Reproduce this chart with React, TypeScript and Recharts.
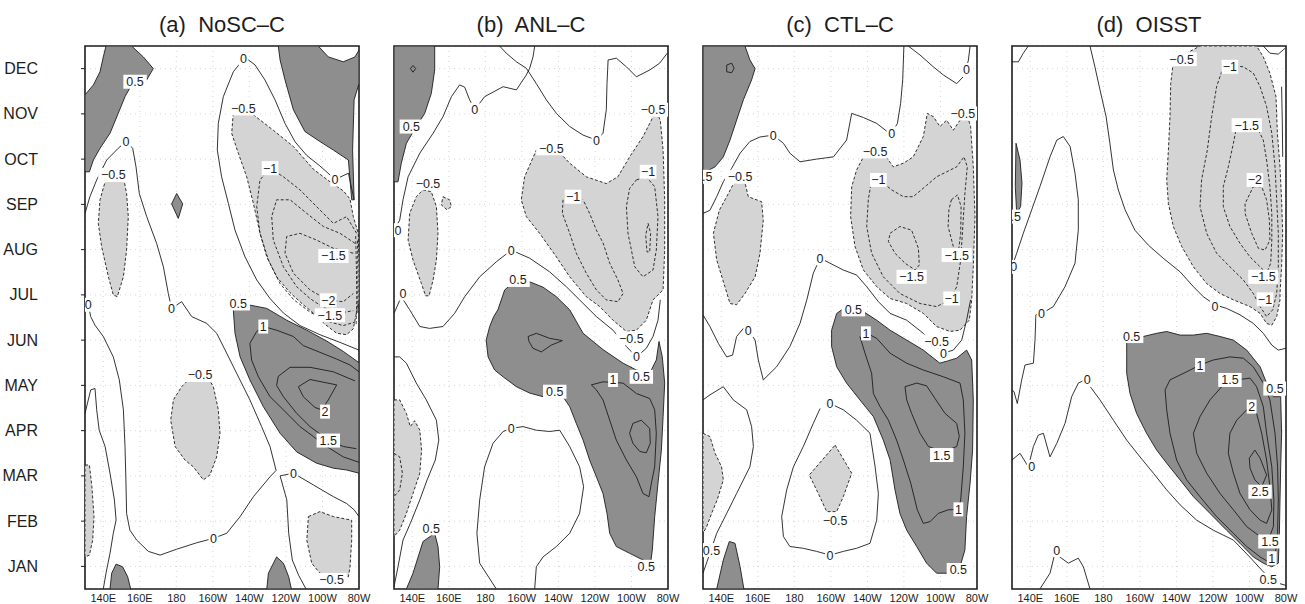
import React from 'react';
import { ScatterChart, Scatter, XAxis, YAxis, CartesianGrid, ReferenceArea } from 'recharts';

type Pt = [number, number];
type Lbl = [number, number, string];

// axes
const MONTHS = ['JAN', 'FEB', 'MAR', 'APR', 'MAY', 'JUN', 'JUL', 'AUG', 'SEP', 'OCT', 'NOV', 'DEC'];
const MONTH_TICKS = [1, 2, 3, 4, 5, 6, 7, 8, 9, 10, 11, 12];
const LON_TICKS = [140, 160, 180, 200, 220, 240, 260, 280];
const LON_LABELS = ['140E', '160E', '180', '160W', '140W', '120W', '100W', '80W'];
const TITLES = ['(a)  NoSC–C', '(b)  ANL–C', '(c)  CTL–C', '(d)  OISST'];

// ---------- panel (a) NoSC-C : contours as [lon (deg E), month] ----------
const A_darkTL: Pt[] = [[141.5,12.5],[155.5,12.5],[161.9,12.26],[167.4,12.0],[163.8,11.75],[155.5,11.64],[151.9,11.38],[148.2,11.01],[143.7,10.57],[138.2,10.24],[134.6,9.98],[132.4,9.72],[130,9.72],[130,11.42],[134.6,11.64],[138.2,11.93],[140.0,12.26]];
const A_darkTR: Pt[] = [[235.8,12.5],[257.7,12.5],[263.2,12.26],[271.4,12.15],[277.8,12.26],[280,12.41],[280,11.67],[277.3,11.31],[276.5,10.2],[277.3,9.1],[276.0,9.1],[274.2,9.98],[266.0,10.2],[258.6,10.39],[250.4,10.61],[244.1,11.09],[239.5,11.75],[236.8,12.19]];
const A_diamond: Pt[] = [[180.2,9.24],[183.5,9.01],[181.1,8.69],[177.4,9.01]];
const A_lightW: Pt[] = [[143.7,9.65],[151.0,9.61],[152.8,9.24],[153.7,8.73],[152.8,7.99],[151.0,7.40],[147.7,6.96],[145.5,7.0],[142.8,7.40],[139.1,8.07],[137.3,8.58],[138.2,9.10],[141.0,9.50]];
const A_neg: Pt[] = [[211.2,11.03],[222.2,10.98],[233.1,10.64],[244.1,10.28],[255.0,9.78],[264.1,9.50],[271.4,9.30],[275.1,9.12],[276.9,8.73],[279.6,8.36],[280,7.62],[280,6.89],[276.9,6.25],[273.2,6.12],[267.8,6.15],[261.4,6.35],[255.0,6.6],[249.5,6.78],[242.2,7.05],[234.9,7.40],[229.5,7.84],[225.8,8.36],[222.2,9.02],[218.5,9.61],[213.9,10.13],[210.3,10.57]];
const A_negMid: Pt[] = [[186.6,5.12],[197.5,5.16],[200.3,4.97],[203.0,4.46],[203.9,3.94],[202.1,3.42],[198.4,3.02],[194.8,2.91],[189.3,3.20],[184.7,3.35],[179.3,3.65],[176.9,4.23],[178.4,4.68],[182.9,4.97]];
const A_pos: Pt[] = [[211.2,6.67],[219.4,6.78],[229.5,6.70],[240.4,6.44],[251.4,6.22],[262.3,5.98],[271.4,5.75],[280,5.5],[280,3.06],[273.2,3.13],[266.0,3.17],[256.8,3.28],[245.9,3.53],[236.8,3.94],[227.6,4.53],[220.3,5.12],[214.9,5.63],[212.1,6.15]];
const A_negBR: Pt[] = [[252.3,2.10],[258.6,2.21],[266.0,2.10],[276.0,2.02],[276.0,1.58],[275.1,0.99],[274.2,0.77],[266.0,0.77],[258.6,0.85],[254.1,1.07],[251.4,1.58]];
const A_lightEdge: Pt[] = [[130,3.24],[132.4,3.24],[133.8,2.76],[134.9,2.10],[134.2,1.58],[132.4,1.25],[130,1.21]];
const A_darkBL: Pt[] = [[143.7,0.5],[144.6,0.85],[147.0,1.05],[150.6,0.99],[153.4,0.77],[155.0,0.5]];
const A_darkB: Pt[] = [[229.5,0.5],[230.4,0.85],[234.9,1.21],[238.6,1.07],[241.5,0.77],[243.0,0.5]];
const A_zero1: Pt[] = [[130,8.80],[132.7,9.17],[136.4,9.54],[141.9,9.98],[148.2,10.24],[152.4,10.39],[156.1,10.24],[157.9,9.83],[159.7,9.24],[163.8,8.73],[169.2,8.14],[172.9,7.62],[175.6,7.03],[177.4,6.70],[182.9,6.85],[188.4,6.52],[196.6,6.37],[202.1,6.15],[207.6,5.71],[213.0,5.27],[220.3,4.68],[226.7,4.09],[231.3,3.65],[234.6,3.12],[231.3,2.98],[222.2,2.54],[214.9,2.10],[207.6,1.73],[200.3,1.62],[191.1,1.52],[180.2,1.38],[171.1,1.25],[164.7,1.33],[158.3,1.58],[154.6,1.80],[152.8,2.17],[152.4,2.91],[151.9,3.65],[151.0,4.46],[148.8,5.12],[145.5,5.63],[140.0,6.08],[135.5,6.33],[133.1,6.52],[131.8,6.78],[130,6.89]];
const A_zeroTR: Pt[] = [[277.3,9.1],[274.2,9.69],[266.9,9.55],[258.6,9.85],[251.4,10.08],[245.0,10.38],[239.5,10.79],[234.0,11.31],[228.5,11.75],[223.1,12.08],[217.6,12.25],[211.2,11.93],[205.7,11.38],[203.0,10.79],[202.4,10.2],[204.8,9.61],[208.5,9.02],[212.1,8.43],[217.6,7.84],[224.0,7.33],[231.3,6.92],[238.6,6.6],[247.7,6.32],[258.6,6.12],[269.6,5.95],[280,5.78]];
const A_zero3: Pt[] = [[130,4.38],[133.1,4.90],[135.5,4.93],[136.4,4.46],[137.8,4.01],[141.0,3.65],[143.7,3.06],[146.1,2.47],[147.0,2.02],[145.5,1.73],[143.7,1.29],[141.5,0.85],[140.0,0.5]];
const A_zero4: Pt[] = [[280,2.10],[277.3,2.25],[273.2,2.39],[266.0,2.54],[255.0,2.80],[244.1,3.06],[236.8,3.00],[240.5,2.47],[241.5,1.73],[243.5,1.14],[247.0,0.8],[251.0,0.5]];
const A_m1: Pt[] = [[278.7,8.36],[273.2,8.73],[266.0,8.58],[256.8,8.95],[247.7,9.32],[238.6,9.61],[231.3,9.80],[225.8,9.54],[224.0,8.95],[225.8,8.36],[230.4,7.77],[236.8,7.25],[244.1,6.9],[253.2,6.62],[262.3,6.42],[271.4,6.32],[277.8,6.4]];
const A_m15: Pt[] = [[277.8,8.14],[269.6,8.36],[260.5,8.51],[251.4,8.80],[242.2,9.10],[234.9,9.10],[232.2,8.73],[233.1,8.21],[238.6,7.62],[245.9,7.18],[253.2,6.92],[260.5,6.72],[269.6,6.6],[276.9,6.65]];
const A_m2: Pt[] = [[276.9,7.92],[266.0,8.03],[256.8,8.21],[247.7,8.36],[240.4,8.29],[239.5,7.92],[244.1,7.48],[253.2,7.11],[263.2,6.88],[271.4,6.85],[276.9,7.03]];
const A_edge1: Pt[] = [[278.2,8.3],[278.6,7.6],[278.8,6.9],[278.4,6.35]];
const A_edge2: Pt[] = [[279.2,8.2],[279.4,7.4],[279.4,6.6]];
const A_p1: Pt[] = [[280,5.3],[275.1,5.45],[267.8,5.58],[258.6,5.73],[249.5,5.88],[244.1,6.08],[234.9,6.22],[227.6,6.30],[224.0,6.19],[220.3,5.93],[221.2,5.56],[224.9,5.19],[231.3,4.75],[238.6,4.46],[247.7,4.09],[255.0,3.87],[262.3,3.65],[271.4,3.42],[280,3.3]];
const A_p15: Pt[] = [[277.8,5.1],[266.0,5.3],[253.2,5.4],[242.2,5.4],[235.8,5.2],[234.9,5.0],[238.6,4.75],[245.9,4.38],[253.2,4.09],[263.2,3.79],[271.4,3.65],[278.5,3.6]];
const A_p2: Pt[] = [[246.8,4.97],[253.2,5.13],[267.8,5.01],[263.2,4.68],[259.6,4.46],[255.9,4.51],[249.5,4.75]];
const A_labels: Lbl[] = [[157.4,11.71,'0.5'],[152.4,10.39,'0'],[145.5,9.65,'−0.5'],[216.7,12.23,'0'],[216.7,11.12,'−0.5'],[231.3,9.80,'−1'],[266.9,9.55,'0'],[266.0,7.86,'−1.5'],[263.2,6.88,'−2'],[264.1,6.55,'−1.5'],[213.9,6.81,'0.5'],[227.6,6.30,'1'],[261.4,4.42,'2'],[263.2,3.78,'1.5'],[177.4,6.70,'0'],[131.8,6.78,'0'],[193.0,5.23,'−0.5'],[244.1,3.06,'0'],[200.3,1.62,'0'],[265.0,0.70,'−0.5']];

// ---------- panel (b) ANL-C ----------
const B_darkTL: Pt[] = [[130,12.5],[152.3,12.5],[152.3,11.97],[150.4,11.45],[146.8,11.01],[142.2,10.72],[136.8,10.35],[134.0,9.91],[132.2,9.5],[130,9.5]];
const B_dot: Pt[] = [[140.4,12.07],[141.9,12.0],[140.4,11.92],[139.0,12.0]];
const B_lightW: Pt[] = [[145.9,9.32],[150.4,9.28],[153.2,8.95],[154.1,8.36],[153.2,7.77],[151.4,7.33],[149.2,6.98],[147.3,6.98],[145.0,7.25],[140.4,7.77],[137.7,8.21],[138.6,8.80],[142.2,9.17]];
const B_blob: Pt[] = [[156.8,9.17],[160.5,9.10],[161.4,8.95],[159.0,8.88],[155.9,8.99]];
const B_neg: Pt[] = [[207.9,10.20],[218.9,10.22],[226.2,9.91],[235.3,9.61],[246.2,9.46],[252.6,9.61],[259.0,10.05],[266.3,10.50],[270.9,10.86],[273.2,11.09],[275.8,10.86],[277.3,10.20],[278.2,9.10],[278.2,7.99],[277.3,7.11],[271.8,6.89],[268.1,6.44],[262.7,6.22],[257.2,6.19],[249.9,6.44],[242.6,6.74],[235.3,6.96],[226.2,7.40],[218.9,7.84],[209.7,8.36],[202.4,8.73],[199.7,9.10],[201.5,9.61]];
const B_m1a: Pt[] = [[222.5,9.10],[222.2,8.80],[226.2,8.36],[229.8,7.92],[235.3,7.48],[240.8,7.11],[246.2,6.89],[252.6,6.85],[255.4,7.03],[252.6,7.33],[248.1,7.70],[244.4,8.15],[240.8,8.43],[237.1,8.80],[233.5,9.10]];
const B_m1b: Pt[] = [[262.7,9.54],[268.1,9.61],[272.7,9.39],[274.5,8.73],[273.6,7.99],[271.8,7.55],[266.3,7.40],[261.8,7.62],[258.1,8.36],[257.2,8.95],[259.0,9.35]];
const B_m15: Pt[] = [[269.1,8.58],[270.5,8.36],[270.0,7.95],[268.5,7.95],[267.8,8.32]];
const B_pos: Pt[] = [[186.9,6.67],[190.6,7.11],[197.0,7.33],[204.3,7.29],[211.6,7.17],[218.9,6.96],[226.2,6.67],[233.5,6.15],[244.4,5.79],[255.4,5.49],[262.7,5.34],[270.0,5.27],[273.6,5.56],[275.1,5.97],[276.9,5.63],[278.2,5.05],[277.3,4.31],[276.4,3.57],[274.5,2.84],[272.7,2.10],[271.4,1.36],[270.5,1.07],[266.3,1.14],[259.0,1.29],[251.7,1.44],[248.1,1.73],[246.6,2.17],[244.4,2.61],[240.8,2.98],[237.1,3.35],[233.5,3.79],[229.8,4.16],[226.2,4.53],[222.5,4.75],[218.0,4.84],[211.6,4.75],[204.3,4.83],[197.0,4.97],[189.7,5.19],[185.1,5.34],[181.5,5.63],[180.5,6.00],[182.4,6.30],[184.6,6.52]];
const B_p1s: Pt[] = [[203.4,6.08],[207.9,6.15],[215.2,6.04],[222.2,5.99],[216.1,5.89],[210.7,5.74],[206.1,5.82],[203.9,5.97]];
const B_p1: Pt[] = [[238.0,5.01],[244.4,5.08],[255.4,5.05],[262.7,4.82],[270.0,4.71],[272.7,4.46],[273.6,3.94],[272.7,3.20],[270.9,2.84],[269.6,2.54],[266.3,2.61],[262.7,2.98],[257.2,3.35],[251.7,3.79],[248.1,4.23],[244.4,4.68],[240.8,4.90]];
const B_p15: Pt[] = [[260.8,4.16],[265.4,4.23],[270.0,4.05],[270.3,3.72],[268.1,3.51],[264.5,3.54],[260.8,3.72],[259.0,3.94]];
const B_zero1: Pt[] = [[130,8.43],[133.1,8.65],[134.9,9.10],[137.7,9.61],[144.1,10.13],[151.4,10.57],[156.8,10.94],[161.4,11.38],[165.9,11.64],[168.7,11.59],[171.4,11.31],[174.2,11.09],[179.6,11.38],[189.7,11.60],[197.0,11.53],[202.4,11.86],[204.3,12.01],[206.1,12.26],[207.0,12.5]];
const B_zero2: Pt[] = [[187.8,12.5],[191.5,12.34],[197.0,12.15],[202.4,12.01],[207.9,11.67],[213.4,11.31],[218.9,11.01],[226.2,10.72],[233.5,10.53],[240.8,10.42],[244.4,10.57],[246.2,11.09],[246.6,11.67],[247.2,12.19],[251.7,12.23],[257.2,12.04],[262.7,11.82],[270.0,11.97],[275.4,12.12],[279.6,12.34]];
const B_zero3: Pt[] = [[130,6.59],[134.0,6.96],[138.6,6.67],[144.1,6.30],[149.5,6.26],[156.8,6.30],[163.2,6.59],[168.7,6.96],[176.9,7.40],[186.0,7.73],[194.2,7.99],[204.3,7.81],[215.2,7.51],[224.3,7.18],[231.6,6.89],[240.8,6.52],[249.9,6.22],[257.2,5.86],[262.7,5.63],[268.1,5.82],[271.8,6.08],[274.5,6.44],[275.8,6.89]];
const B_zero4: Pt[] = [[130,5.63],[133.1,5.63],[136.8,5.49],[142.2,5.05],[147.7,4.68],[153.2,4.23],[154.5,3.79],[152.6,3.35],[148.1,2.91],[144.1,2.47],[138.9,1.95],[134.9,1.58],[132.2,0.99],[130,0.55]];
const B_lightSW: Pt[] = [[130,4.68],[133.1,4.68],[136.8,4.38],[138.9,4.09],[141.3,4.22],[144.1,4.01],[145.1,3.57],[144.1,3.06],[140.4,2.61],[136.8,2.17],[133.1,1.80],[130,1.66]];
const B_m1edge: Pt[] = [[130,3.50],[133.1,3.42],[134.6,3.06],[133.1,2.69],[130,2.54]];
const B_zero5: Pt[] = [[186.0,0.5],[176.9,1.07],[175.4,1.73],[176.9,2.47],[179.6,3.20],[184.2,3.72],[189.7,3.98],[194.2,4.05],[200.6,4.09],[207.9,4.01],[215.2,3.98],[220.7,4.01],[226.2,3.65],[231.6,3.20],[233.8,2.76],[231.6,2.17],[226.2,1.73],[218.9,1.44],[211.6,1.21],[207.9,0.99],[207.0,0.5]];
const B_darkBL: Pt[] = [[136.8,0.5],[140.4,0.85],[145.9,1.55],[152.3,1.73],[154.1,1.44],[155.0,0.99],[154.1,0.5]];
const B_labels: Lbl[] = [[139.5,10.72,'0.5'],[174.2,11.09,'0'],[240.8,10.42,'0'],[216.1,10.24,'−0.5'],[271.8,11.09,'−0.5'],[228.0,9.17,'−1'],[269.1,9.72,'−1'],[148.6,9.47,'−0.5'],[132.2,8.43,'0'],[134.9,7.03,'0'],[194.2,7.99,'0'],[197.9,7.33,'0.5'],[259.9,6.04,'−0.5'],[262.7,5.63,'0'],[265.4,5.19,'0.5'],[249.9,5.12,'1'],[218.0,4.86,'0.5'],[194.2,4.05,'0'],[268.1,0.99,'0.5'],[150.4,1.84,'0.5']];

// ---------- panel (c) CTL-C ----------
const C_darkTL: Pt[] = [[130,12.5],[153.0,12.5],[155.7,12.19],[158.5,12.0],[156.6,11.75],[152.1,11.31],[148.4,10.86],[144.8,10.42],[141.1,10.05],[136.6,9.83],[130,9.69]];
const C_oval: Pt[] = [[143.0,12.08],[145.7,12.12],[147.0,12.01],[145.7,11.91],[143.0,11.93]];
const C_neg: Pt[] = [[217.8,10.05],[228.7,10.13],[234.2,9.83],[239.7,9.91],[245.1,10.05],[250.6,10.50],[252.8,11.01],[256.1,10.94],[259.7,10.72],[263.4,10.86],[267.0,10.64],[270.7,10.86],[274.3,11.01],[276.5,10.72],[278.0,9.83],[278.9,8.73],[278.0,7.62],[277.1,6.89],[275.8,6.44],[270.7,6.22],[265.2,6.19],[257.9,6.30],[250.6,6.59],[241.5,6.81],[232.4,6.92],[225.1,7.18],[217.8,7.55],[213.2,8.07],[210.8,8.73],[211.4,9.39],[214.1,9.76]];
const C_m1: Pt[] = [[222.3,9.54],[220.5,9.10],[219.6,8.51],[222.3,7.92],[228.7,7.40],[237.8,7.03],[248.8,6.81],[257.9,6.74],[265.2,6.89],[268.9,7.18],[271.1,7.77],[272.2,8.51],[273.4,9.24],[274.7,9.83],[272.9,10.05],[268.9,9.83],[263.4,9.72],[257.9,9.61],[252.4,9.42],[245.1,9.17],[239.7,9.17],[233.3,9.32],[228.7,9.47]];
const C_m15a: Pt[] = [[232.4,8.36],[237.8,8.51],[244.2,8.43],[247.9,8.03],[248.4,7.66],[246.1,7.55],[240.6,7.70],[235.1,7.92],[231.5,8.18]];
const C_m15b: Pt[] = [[266.0,9.10],[269.3,9.21],[271.3,8.95],[271.1,8.36],[269.7,7.92],[267.0,8.07],[264.2,8.51],[264.6,8.88]];
const C_lightW: Pt[] = [[148.4,9.50],[153.0,9.48],[154.8,9.17],[162.1,9.06],[163.0,8.65],[161.2,7.92],[158.5,7.40],[153.0,7.03],[148.4,6.78],[144.8,6.81],[142.0,7.18],[137.5,7.77],[135.7,8.36],[138.9,8.87],[143.0,9.17],[146.2,9.42]];
const C_zero1: Pt[] = [[130,8.80],[133.8,8.87],[137.5,9.17],[141.1,9.50],[145.7,9.80],[150.3,10.13],[155.7,10.39],[161.2,10.49],[168.5,10.53],[174.0,10.35],[177.6,10.13],[183.1,9.94],[192.2,10.00],[201.4,10.05],[208.6,10.42],[211.4,11.01],[217.8,10.92],[225.1,10.79],[230.5,10.62],[233.3,10.57],[236.4,10.79],[238.2,11.23],[239.3,11.75],[240.0,12.5]];
const C_zero2: Pt[] = [[242.4,12.5],[248.8,12.30],[256.1,12.04],[261.6,11.86],[268.9,11.67],[273.4,11.86],[275.3,12.19],[276.2,12.5]];
const C_zero3: Pt[] = [[130,6.56],[133.8,6.30],[138.4,5.93],[143.0,5.63],[146.2,5.67],[148.4,6.08],[152.1,6.26],[154.8,6.22],[158.5,6.00],[160.3,5.56],[163.0,5.12],[170.3,5.41],[177.6,5.86],[183.1,6.37],[186.8,6.89],[190.4,7.48],[194.1,7.81],[199.5,7.70],[206.8,7.55],[214.1,7.44],[219.6,7.18],[226.0,6.85],[232.4,6.59],[241.5,6.44],[250.6,6.15],[257.9,5.86],[261.6,5.71],[267.0,5.78],[271.6,6.00],[274.3,6.44],[276.5,6.89]];
const C_pos: Pt[] = [[203.2,6.59],[208.6,6.74],[217.8,6.63],[225.1,6.44],[232.4,6.22],[241.5,6.00],[250.6,5.78],[259.7,5.49],[268.9,5.60],[274.3,5.78],[277.1,5.56],[278.0,4.68],[277.6,3.57],[276.2,2.84],[274.3,2.10],[273.4,1.36],[270.7,0.99],[265.2,0.85],[257.9,0.85],[252.4,1.07],[247.0,1.44],[241.5,1.80],[237.8,2.17],[235.1,2.69],[232.4,3.35],[228.7,3.79],[223.3,4.31],[215.9,4.68],[208.6,5.05],[203.2,5.41],[200.4,5.86],[200.4,6.22]];
const C_p1: Pt[] = [[219.6,6.15],[225.1,6.04],[232.4,5.71],[241.5,5.49],[250.6,5.34],[261.6,5.19],[270.7,5.05],[272.5,4.68],[273.4,3.94],[272.5,3.20],[271.1,2.47],[269.8,2.26],[264.3,2.25],[258.8,2.17],[254.3,1.99],[250.6,1.95],[247.3,2.25],[243.7,2.84],[239.7,3.35],[236.0,3.79],[231.5,4.23],[226.9,4.53],[223.3,4.82],[222.3,5.27],[218.7,5.71],[215.9,6.08]];
const C_p15: Pt[] = [[240.6,4.97],[247.0,5.05],[252.4,4.99],[257.0,4.71],[262.5,4.38],[268.9,4.16],[270.3,3.87],[268.9,3.65],[261.6,3.53],[253.4,3.65],[248.8,3.94],[244.2,4.38],[241.5,4.68]];
const C_zeroLoop: Pt[] = [[199.5,4.60],[206.8,4.46],[214.1,4.23],[221.4,3.94],[224.2,3.20],[226.0,2.61],[225.1,2.02],[221.4,1.51],[214.1,1.40],[206.8,1.33],[199.5,1.25],[192.2,1.33],[184.9,1.40],[177.6,1.44],[174.0,1.66],[173.1,2.10],[175.8,2.69],[179.5,3.20],[184.9,3.65],[190.4,4.16],[194.1,4.49]];
const C_diamond: Pt[] = [[202.3,3.68],[211.4,3.06],[206.8,2.54],[203.2,2.21],[197.7,2.21],[193.1,2.61],[188.2,3.02]];
const C_zeroW: Pt[] = [[130,4.68],[133.8,4.79],[141.1,4.97],[146.6,4.68],[153.9,4.46],[156.6,4.09],[157.6,3.65],[155.7,3.20],[152.1,2.91],[148.4,2.61],[143.0,2.17],[137.5,1.73],[133.8,1.29],[130,0.85]];
const C_lightSW: Pt[] = [[130,3.94],[133.8,3.87],[136.6,3.50],[140.2,3.20],[141.1,2.91],[137.8,2.47],[134.7,2.17],[132.0,1.88],[130,1.73]];
const C_darkBL: Pt[] = [[137.5,0.5],[141.1,1.14],[144.4,1.55],[147.5,1.51],[150.3,0.99],[152.4,0.5]];
const C_labels: Lbl[] = [[168.5,10.53,'0'],[233.3,10.57,'0'],[274.3,11.97,'0'],[272.2,11.01,'−0.5'],[224.2,10.17,'−0.5'],[226.0,9.54,'−1'],[150.3,9.61,'−0.5'],[132.3,9.61,'.5'],[268.9,7.88,'−1.5'],[244.2,7.40,'−1.5'],[266.1,6.92,'−1'],[194.1,7.81,'0'],[212.3,6.68,'0.5'],[257.9,5.97,'−0.5'],[261.6,5.71,'0'],[219.2,6.15,'1'],[154.8,6.22,'0'],[199.5,4.60,'0'],[260.7,3.46,'1.5'],[269.8,2.26,'1'],[202.3,2.02,'−0.5'],[199.5,1.25,'0'],[269.8,0.92,'0.5'],[134.6,1.36,'0.5']];

// ---------- panel (d) OISST ----------
const D_neg: Pt[] = [[218.3,12.15],[225.6,12.34],[232.9,12.5],[263.9,12.5],[267.6,12.26],[271.2,11.90],[274.5,11.38],[275.3,10.57],[276.7,9.83],[277.6,9.10],[278.2,8.36],[277.6,7.62],[276.7,7.03],[276.7,6.89],[274.9,6.52],[272.2,6.33],[269.4,6.37],[265.8,6.59],[260.3,6.74],[251.2,6.89],[243.9,7.03],[236.6,7.25],[229.3,7.62],[222.9,8.07],[218.3,8.51],[215.6,9.02],[214.7,9.54],[215.6,10.20],[216.5,10.94],[216.9,11.67]];
const D_m1: Pt[] = [[245.7,12.04],[242.0,11.60],[239.3,10.94],[236.9,10.20],[233.8,9.54],[232.9,8.95],[236.6,8.36],[242.0,7.92],[249.3,7.62],[256.6,7.33],[262.1,7.03],[265.8,6.74],[269.4,6.52],[272.7,6.67],[274.9,7.03],[275.8,7.62],[275.8,8.36],[274.9,9.10],[274.0,9.83],[272.2,10.57],[269.4,11.16],[265.8,11.60],[262.1,11.90],[256.6,12.04],[252.1,12.06]];
const D_m15: Pt[] = [[253.0,10.73],[251.2,10.35],[248.4,9.83],[245.7,9.39],[245.7,8.95],[249.3,8.51],[254.8,8.14],[260.3,7.84],[265.8,7.62],[269.4,7.48],[271.6,7.70],[272.2,8.21],[272.2,8.80],[271.2,9.39],[269.4,9.98],[267.6,10.42],[263.9,10.72]];
const D_m2: Pt[] = [[262.1,9.39],[266.7,9.39],[269.4,9.10],[270.9,8.65],[271.2,8.21],[268.5,7.99],[264.9,8.03],[261.2,8.36],[257.6,8.80],[257.6,9.02]];
const D_pos: Pt[] = [[192.8,6.00],[201.9,6.08],[209.2,6.15],[214.7,6.19],[222.0,6.11],[229.3,6.11],[236.6,6.15],[243.9,6.08],[251.2,6.00],[258.5,5.78],[265.8,5.41],[269.4,5.05],[273.1,4.75],[277.1,4.75],[277.6,3.94],[277.1,3.20],[276.7,2.47],[276.4,1.73],[275.8,1.07],[272.2,0.99],[267.6,1.07],[262.1,1.21],[254.8,1.51],[247.5,1.80],[238.4,2.17],[229.3,2.54],[222.0,2.91],[214.7,3.28],[209.2,3.57],[203.7,3.94],[198.2,4.38],[194.6,4.82],[192.8,5.27],[192.8,5.71]];
const D_p1: Pt[] = [[213.8,4.90],[216.5,5.12],[225.6,5.30],[232.9,5.45],[240.2,5.56],[249.3,5.63],[256.6,5.60],[262.1,5.41],[267.6,5.05],[271.2,4.68],[274.0,3.94],[275.4,3.20],[275.8,2.47],[275.4,1.73],[274.0,1.21],[270.3,1.10],[265.8,1.21],[258.5,1.44],[251.2,1.73],[242.0,2.10],[232.9,2.54],[225.6,2.91],[220.1,3.35],[216.5,3.94],[214.7,4.46]];
const D_p15: Pt[] = [[244.8,4.97],[253.0,5.12],[260.3,5.16],[263.9,4.97],[267.6,4.53],[269.4,3.94],[272.2,3.20],[273.4,2.47],[273.1,1.88],[270.3,1.58],[265.8,1.66],[258.5,1.88],[251.2,2.25],[243.9,2.61],[236.6,3.06],[231.1,3.50],[229.3,3.94],[232.9,4.31],[238.4,4.68]];
const D_p2: Pt[] = [[258.5,4.46],[263.9,4.38],[266.7,3.94],[269.4,3.35],[271.2,2.76],[272.2,2.25],[269.4,1.95],[265.8,2.02],[260.3,2.25],[254.8,2.61],[251.2,3.06],[248.4,3.50],[249.3,3.94],[253.0,4.23]];
const D_p25: Pt[] = [[263.0,3.57],[265.8,3.39],[269.4,3.02],[266.7,2.76],[263.0,2.91],[260.3,3.17],[259.9,3.39]];
const D_darkW: Pt[] = [[132.2,10.35],[134.4,9.98],[135.5,9.47],[134.7,8.95],[132.6,8.80],[131.8,9.39]];
const D_zero1: Pt[] = [[172.7,12.5],[175.4,12.04],[178.2,11.53],[181.5,10.94],[183.6,10.35],[185.5,9.76],[188.2,9.32],[191.9,8.88],[197.3,8.43],[204.6,8.10],[212.8,7.81],[222.0,7.51],[229.3,7.18],[234.7,6.96],[241.1,6.78],[247.5,6.70],[254.8,6.56],[262.1,6.37],[267.6,6.15],[272.2,5.89],[275.8,5.78],[280,5.82]];
const D_zero2: Pt[] = [[130,7.62],[132.6,7.92],[136.2,8.36],[140.8,8.88],[145.3,9.39],[150.8,10.05],[154.5,10.42],[158.1,10.50],[161.8,10.28],[164.5,9.69],[166.3,9.10],[166.3,8.43],[164.5,7.70],[159.0,7.18],[152.6,6.74],[147.2,6.61],[143.1,6.56],[142.6,6.00],[141.7,5.49],[137.1,5.45],[135.3,5.12],[132.9,4.60],[131.1,4.86],[130,4.90]];
const D_zero3: Pt[] = [[130,3.35],[134.4,3.50],[138.9,3.20],[141.7,3.65],[144.4,3.90],[147.2,3.94],[150.8,3.42],[154.5,3.72],[159.0,4.16],[162.7,4.75],[166.3,5.05],[170.0,5.12],[173.6,4.93],[178.2,4.68],[185.5,4.23],[192.8,3.79],[200.1,3.42],[207.4,3.06],[214.7,2.69],[222.0,2.36],[231.1,2.02],[240.2,1.80],[251.2,1.58],[260.3,1.20],[267.6,0.88],[273.1,0.66],[280,0.58]];
const D_zero4: Pt[] = [[145.3,0.5],[150.8,0.85],[153.5,1.29],[160.8,1.07],[166.3,1.18],[169.1,0.99],[172.7,0.5]];
const D_arcNW: Pt[] = [[130,12.15],[133.5,12.15],[136.2,12.34],[138.9,12.5]];
const D_arcNE: Pt[] = [[267.6,12.5],[271.2,12.34],[275.8,12.32],[279.5,12.45]];
const D_edge: Pt[] = [[277.6,11.6],[278.0,10.8],[278.2,10.05]];
const D_labels: Lbl[] = [[222.9,12.21,'−0.5'],[249.3,12.04,'−1'],[258.5,10.75,'−1.5'],[263.0,9.54,'−2'],[267.6,7.40,'−1.5'],[268.5,6.9,'−1'],[132.1,8.73,'.5'],[131.0,7.62,'0'],[241.1,6.75,'0'],[146.2,6.59,'0'],[195.5,6.09,'0.5'],[232.9,5.45,'1'],[249.3,5.12,'1.5'],[274.0,4.93,'0.5'],[261.2,4.53,'2'],[171.2,5.12,'0'],[140.8,3.20,'0'],[265.8,2.65,'2.5'],[271.2,1.55,'1.5'],[272.2,1.18,'1'],[270.3,0.70,'0.5'],[154.5,1.36,'0']];

// ---------- rendering ----------
const DARK = '#8e8e8e';
const LIGHT = '#d4d4d4';
const INK = '#1d1d1d';
const FONT = '"Liberation Sans", Arial, Helvetica, sans-serif';

const PLOT_W = 274;
const PLOT_H = 543;
const PLOT_LEFTS = [85, 394, 703, 1012];
const RIGHT_PAD = 16;

type Fill = [Pt[], 'dark' | 'light'];
type Line = [Pt[], boolean, boolean]; // points, dashed, closed

interface PanelSpec {
  fills: Fill[];
  lines: Line[];
  labels: Lbl[];
}

const PANELS: PanelSpec[] = [
  {
    fills: [[A_darkTL, 'dark'], [A_darkTR, 'dark'], [A_diamond, 'dark'], [A_lightW, 'light'], [A_neg, 'light'], [A_negMid, 'light'], [A_pos, 'dark'], [A_negBR, 'light'], [A_lightEdge, 'light'], [A_darkBL, 'dark'], [A_darkB, 'dark']],
    lines: [[A_zero1, false, false], [A_zeroTR, false, false], [A_zero3, false, false], [A_zero4, false, false], [A_m1, true, false], [A_m15, true, false], [A_m2, true, false], [A_edge1, true, false], [A_edge2, true, false], [A_p1, false, false], [A_p15, false, false], [A_p2, false, true]],
    labels: A_labels,
  },
  {
    fills: [[B_darkTL, 'dark'], [B_lightW, 'light'], [B_blob, 'light'], [B_neg, 'light'], [B_pos, 'dark'], [B_lightSW, 'light'], [B_darkBL, 'dark']],
    lines: [[B_dot, false, true], [B_m1a, true, false], [B_m1b, true, true], [B_m15, true, true], [B_p1s, false, true], [B_p1, false, true], [B_p15, false, true], [B_zero1, false, false], [B_zero2, false, false], [B_zero3, false, false], [B_zero4, false, false], [B_m1edge, true, false], [B_zero5, false, false]],
    labels: B_labels,
  },
  {
    fills: [[C_darkTL, 'dark'], [C_neg, 'light'], [C_lightW, 'light'], [C_pos, 'dark'], [C_diamond, 'light'], [C_lightSW, 'light'], [C_darkBL, 'dark']],
    lines: [[C_oval, false, true], [C_m1, true, false], [C_m15a, true, true], [C_m15b, true, true], [C_zero1, false, false], [C_zero2, false, false], [C_zero3, false, false], [C_p1, false, false], [C_p15, false, true], [C_zeroLoop, false, false], [C_zeroW, false, false]],
    labels: C_labels,
  },
  {
    fills: [[D_neg, 'light'], [D_pos, 'dark'], [D_darkW, 'dark']],
    lines: [[D_m1, true, false], [D_m15, true, false], [D_m2, true, true], [D_p1, false, true], [D_p15, false, true], [D_p2, false, true], [D_p25, false, true], [D_zero1, false, false], [D_zero2, false, false], [D_zero3, false, false], [D_zero4, false, false], [D_arcNW, false, false], [D_arcNE, false, false], [D_edge, false, false]],
    labels: D_labels,
  },
];

const rows = (a: Pt[]) => a.map(([lon, m]) => ({ lon, m }));
const labelRows = (a: Lbl[]) => a.map(([lon, m, t]) => ({ lon, m, t }));

const NoDot = () => <g />;

const pathRenderer = (fill: string, dashed: boolean, closed: boolean) => (p: any) => {
  const pts: { x: number; y: number }[] = p.points || [];
  if (pts.length < 2) return <g />;
  const d = pts.map((q, i) => `${i ? 'L' : 'M'}${q.x.toFixed(1)},${q.y.toFixed(1)}`).join('') + (closed ? 'Z' : '');
  return (
    <path
      d={d}
      fill={fill}
      stroke={INK}
      strokeWidth={0.9}
      strokeDasharray={dashed ? '3 2' : undefined}
      strokeLinejoin="round"
    />
  );
};

const ContourLabel = (p: any) => {
  const { cx, cy, payload } = p;
  if (cx == null || cy == null) return <g />;
  const t: string = payload.t;
  const w = t.length * 6.8 + 3;
  return (
    <g>
      <rect x={cx - w / 2} y={cy - 7} width={w} height={14} fill="#fff" />
      <text x={cx} y={cy + 4.5} textAnchor="middle" fontSize={12.5} fontFamily={FONT} fill={INK}>
        {t}
      </text>
    </g>
  );
};

const LonTick = (p: any) => {
  const i = LON_TICKS.indexOf(p.payload.value);
  return (
    <text x={p.x} y={p.y + 11} textAnchor="middle" fontSize={11} fontFamily={FONT} fill={INK}>
      {LON_LABELS[i]}
    </text>
  );
};

const MonthTick = (p: any) => (
  <text x={p.x - 41} y={p.y + 5.5} textAnchor="end" fontSize={16} fontFamily={FONT} fill={INK}>
    {MONTHS[p.payload.value - 1]}
  </text>
);

function Panel({ spec, index }: { spec: PanelSpec; index: number }) {
  const withMonths = index === 0;
  const yW = withMonths ? 85 : 0;
  const mLeft = withMonths ? 0 : 4;
  const width = mLeft + yW + PLOT_W + RIGHT_PAD;
  const height = 2 + PLOT_H + 18;
  const left = PLOT_LEFTS[index] - yW - mLeft;
  return (
    <div style={{ position: 'absolute', left, top: 44, width, height }}>
      <ScatterChart width={width} height={height} margin={{ top: 2, right: RIGHT_PAD, bottom: 0, left: mLeft }}>
        <CartesianGrid stroke="#d6d6d6" strokeDasharray="1 4" />
        <XAxis
          type="number"
          dataKey="lon"
          domain={[130, 280]}
          allowDataOverflow
          ticks={LON_TICKS}
          tick={<LonTick />}
          tickSize={0}
          tickLine={false}
          axisLine={false}
          height={18}
          interval={0}
        />
        <YAxis
          type="number"
          dataKey="m"
          domain={[0.5, 12.5]}
          allowDataOverflow
          ticks={MONTH_TICKS}
          hide={!withMonths}
          width={yW}
          tick={<MonthTick />}
          tickSize={4}
          tickLine={{ stroke: INK }}
          axisLine={false}
          interval={0}
        />
        {spec.fills.map(([pts, kind], i) => (
          <Scatter
            key={`f${i}`}
            data={rows(pts)}
            shape={NoDot}
            line={pathRenderer(kind === 'dark' ? DARK : LIGHT, kind === 'light', true)}
            lineType="joint"
            isAnimationActive={false}
          />
        ))}
        {spec.lines.map(([pts, dashed, closed], i) => (
          <Scatter
            key={`l${i}`}
            data={rows(pts)}
            shape={NoDot}
            line={pathRenderer('none', dashed, closed)}
            lineType="joint"
            isAnimationActive={false}
          />
        ))}
        <Scatter data={labelRows(spec.labels)} shape={ContourLabel} isAnimationActive={false} />
        <ReferenceArea x1={130} x2={280} y1={0.5} y2={12.5} fill="none" stroke={INK} strokeWidth={1.6} />
      </ScatterChart>
    </div>
  );
}

export default function App() {
  return (
    <div style={{ position: 'absolute', left: 0, top: 0, width: 1305, height: 604, background: '#fff', fontFamily: FONT }}>
      {TITLES.map((t, i) => (
        <div
          key={t}
          style={{
            position: 'absolute',
            left: PLOT_LEFTS[i] + PLOT_W / 2 - 120,
            width: 240,
            top: 12,
            lineHeight: '26px',
            fontSize: 22,
            textAlign: 'center',
            whiteSpace: 'pre',
            color: INK,
          }}
        >
          {t}
        </div>
      ))}
      {PANELS.map((p, i) => (
        <Panel key={i} spec={p} index={i} />
      ))}
    </div>
  );
}
